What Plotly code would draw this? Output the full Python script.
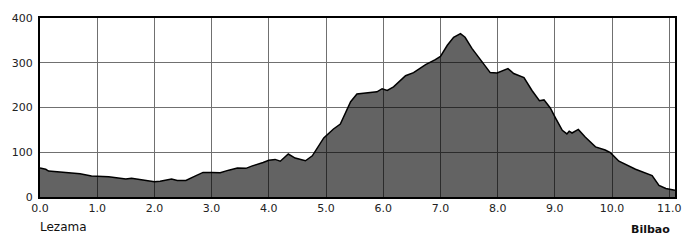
import plotly.graph_objects as go

distance_km = [0.00, 0.10, 0.15, 0.30, 0.50, 0.70, 0.90, 1.00, 1.20, 1.50, 1.60, 1.80, 2.00, 2.10,
               2.30, 2.40, 2.55, 2.70, 2.85, 3.00, 3.15, 3.30, 3.45, 3.60, 3.70, 3.90, 4.00, 4.11,
               4.20, 4.34, 4.46, 4.64, 4.76, 4.96, 5.13, 5.25, 5.43, 5.54, 5.75, 5.89, 5.98, 6.07,
               6.18, 6.39, 6.53, 6.74, 6.91, 7.00, 7.12, 7.23, 7.35, 7.43, 7.55, 7.73, 7.87, 7.99,
               8.08, 8.18, 8.28, 8.46, 8.60, 8.73, 8.81, 8.92, 9.01, 9.13, 9.21, 9.25, 9.30, 9.41,
               9.53, 9.71, 9.88, 9.97, 10.12, 10.41, 10.70, 10.82, 10.94, 11.10]
elevation_m = [65, 62, 58, 56, 54, 52, 47, 46, 45, 40, 42, 38, 34, 35,
               40, 37, 37, 46, 55, 55, 54, 60, 65, 64, 69, 77, 82, 84,
               80, 96, 87, 81, 92, 132, 152, 163, 213, 230, 233, 235, 242, 238,
               246, 271, 278, 296, 307, 314, 339, 357, 365, 357, 332, 303, 278, 277,
               282, 287, 276, 267, 238, 215, 217, 199, 177, 149, 141, 147, 143, 151,
               134, 112, 105, 99, 80, 62, 48, 26, 19, 15]

x_ticks = [0, 1, 2, 3, 4, 5, 6, 7, 8, 9, 10, 11]
x_tick_labels = ["0.0", "1.0", "2.0", "3.0", "4.0", "5.0", "6.0", "7.0", "8.0", "9.0", "10.0", "11.0"]
y_ticks = [0, 100, 200, 300, 400]
start_label = "Lezama"
end_label = "Bilbao"

fig = go.Figure()
fig.add_trace(go.Scatter(
    x=distance_km, y=elevation_m, mode="lines", fill="tozeroy",
    fillcolor="rgba(0,0,0,0.61)", line=dict(color="#000000", width=1.5),
    hoverinfo="skip", showlegend=False,
))

fig.update_layout(
    width=700, height=240,
    margin=dict(l=37, r=25, t=12, b=43),
    paper_bgcolor="white", plot_bgcolor="white",
    font=dict(family="DejaVu Sans", size=11, color="#222222"),
    xaxis=dict(range=[0, 11.1], tickvals=x_ticks, ticktext=x_tick_labels,
               showgrid=True, gridcolor="#707070", gridwidth=1,
               showline=True, linecolor="#000000", linewidth=2, mirror=True,
               ticks="", zeroline=False, fixedrange=True),
    yaxis=dict(range=[0, 400], tickvals=y_ticks,
               showgrid=True, gridcolor="#707070", gridwidth=1,
               showline=True, linecolor="#000000", linewidth=2, mirror=True,
               ticks="", ticklabelstandoff=3, zeroline=False, fixedrange=True),
    annotations=[
        dict(text=start_label, xref="paper", yref="paper", x=-0.003, y=-0.168,
             xanchor="left", yanchor="middle", showarrow=False,
             font=dict(family="DejaVu Sans", size=12, color="#111111")),
        dict(text="<b>" + end_label + "</b>", xref="paper", yref="paper", x=0.996, y=-0.182,
             xanchor="right", yanchor="middle", showarrow=False,
             font=dict(family="DejaVu Sans", size=11, color="#111111")),
    ],
)

fig.write_html("out.html")
